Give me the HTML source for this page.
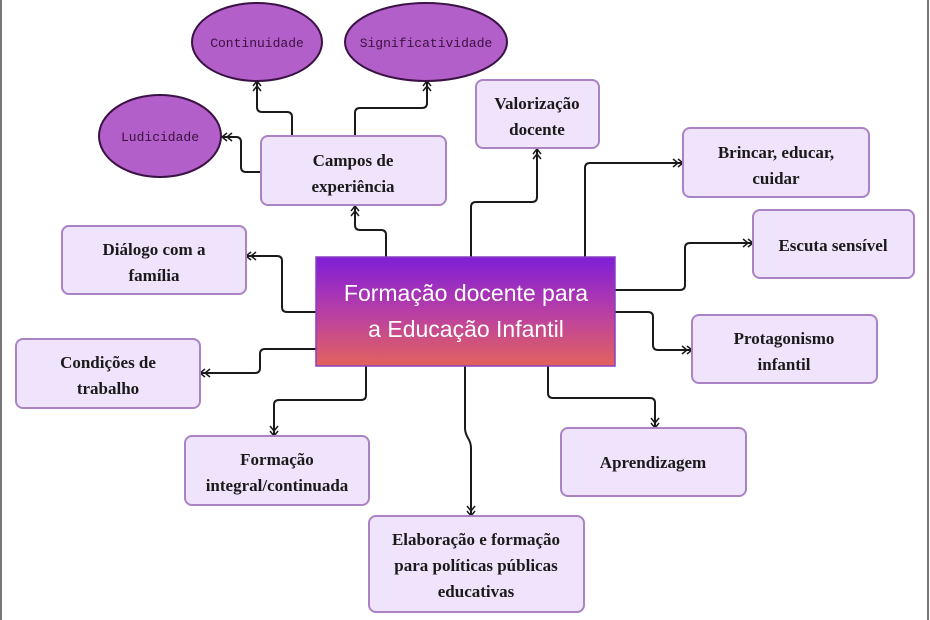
<!DOCTYPE html>
<html><head><meta charset="utf-8"><style>
html,body{margin:0;padding:0;background:#fff;}
svg{display:block;}
.bx{fill:#f0e3fc;stroke:#a983c4;stroke-width:2;}
.t{font-family:"Liberation Serif",serif;font-weight:bold;font-size:17px;fill:#1a1a1a;text-anchor:middle;}
.e{fill:#b35fc9;stroke:#3a1245;stroke-width:2;}
.et{font-family:"Liberation Mono",monospace;font-size:13px;fill:#3a1040;text-anchor:middle;}
.c{fill:none;stroke:#1a1a1a;stroke-width:2;stroke-linejoin:round;}
</style></head><body>
<svg width="930" height="620" viewBox="0 0 930 620" xmlns="http://www.w3.org/2000/svg">
<defs>
<marker id="a" viewBox="0 0 12 10" refX="11" refY="5" markerWidth="12" markerHeight="10" markerUnits="userSpaceOnUse" orient="auto">
<path d="M1,1 L6,5 L1,9 M6,1 L11,5 L6,9" fill="none" stroke="#1a1a1a" stroke-width="1.5"/>
</marker>
<linearGradient id="g" x1="0" y1="0" x2="0" y2="1">
<stop offset="0" stop-color="#7e1ed8"/><stop offset="0.5" stop-color="#b83ea6"/><stop offset="1" stop-color="#e2625c"/>
</linearGradient>
</defs>
<rect x="0" y="0" width="2" height="620" fill="#777"/>
<rect x="927" y="0" width="2" height="620" fill="#777"/>

<!-- connectors -->
<path class="c" marker-end="url(#a)" d="M386,257 V235 Q386,230 381,230 H360 Q355,230 355,225 V206"/>
<path class="c" marker-end="url(#a)" d="M292,137 V117 Q292,112 287,112 H262 Q257,112 257,107 V81"/>
<path class="c" marker-end="url(#a)" d="M355,137 V113 Q355,108 360,108 H422 Q427,108 427,103 V81"/>
<path class="c" marker-end="url(#a)" d="M261,172 H246 Q241,172 241,167 V142 Q241,137 236,137 H222"/>
<path class="c" marker-end="url(#a)" d="M471,257 V207 Q471,202 476,202 H532 Q537,202 537,197 V149"/>
<path class="c" marker-end="url(#a)" d="M585,257 V168 Q585,163 590,163 H683"/>
<path class="c" marker-end="url(#a)" d="M615,290 H680 Q685,290 685,285 V248 Q685,243 690,243 H753"/>
<path class="c" marker-end="url(#a)" d="M615,312 H648 Q653,312 653,317 V345 Q653,350 658,350 H692"/>
<path class="c" marker-end="url(#a)" d="M548,366 V393 Q548,398 553,398 H650 Q655,398 655,403 V428"/>
<path class="c" marker-end="url(#a)" d="M465,366 V428 Q465,433 468,438 Q471,443 471,448 V516"/>
<path class="c" marker-end="url(#a)" d="M366,366 V395 Q366,400 361,400 H279 Q274,400 274,405 V436"/>
<path class="c" marker-end="url(#a)" d="M316,349 H265 Q260,349 260,354 V368 Q260,373 255,373 H200"/>
<path class="c" marker-end="url(#a)" d="M316,312 H287 Q282,312 282,307 V261 Q282,256 277,256 H246"/>

<!-- ellipses -->
<ellipse class="e" cx="257" cy="42" rx="65" ry="39"/>
<text class="et" x="257" y="47">Continuidade</text>
<ellipse class="e" cx="426" cy="42" rx="81" ry="39"/>
<text class="et" x="426" y="47">Significatividade</text>
<ellipse class="e" cx="160" cy="136" rx="61" ry="41"/>
<text class="et" x="160" y="141">Ludicidade</text>

<!-- boxes -->
<rect class="bx" x="261" y="136" width="185" height="69" rx="7"/>
<text class="t" x="353" y="166">Campos de</text><text class="t" x="353" y="192">experiência</text>
<rect class="bx" x="476" y="80" width="123" height="68" rx="7"/>
<text class="t" x="537" y="109">Valorização</text><text class="t" x="537" y="135">docente</text>
<rect class="bx" x="683" y="128" width="186" height="69" rx="7"/>
<text class="t" x="776" y="158">Brincar, educar,</text><text class="t" x="776" y="184">cuidar</text>
<rect class="bx" x="753" y="210" width="161" height="68" rx="7"/>
<text class="t" x="833" y="251">Escuta sensível</text>
<rect class="bx" x="62" y="226" width="184" height="68" rx="7"/>
<text class="t" x="154" y="255">Diálogo com a</text><text class="t" x="154" y="281">família</text>
<rect class="bx" x="16" y="339" width="184" height="69" rx="7"/>
<text class="t" x="108" y="368">Condições de</text><text class="t" x="108" y="394">trabalho</text>
<rect class="bx" x="692" y="315" width="185" height="68" rx="7"/>
<text class="t" x="784" y="344">Protagonismo</text><text class="t" x="784" y="370">infantil</text>
<rect class="bx" x="185" y="436" width="184" height="69" rx="7"/>
<text class="t" x="277" y="465">Formação</text><text class="t" x="277" y="491">integral/continuada</text>
<rect class="bx" x="561" y="428" width="185" height="68" rx="7"/>
<text class="t" x="653" y="468">Aprendizagem</text>
<rect class="bx" x="369" y="516" width="215" height="96" rx="7"/>
<text class="t" x="476" y="545">Elaboração e formação</text><text class="t" x="476" y="571">para políticas públicas</text><text class="t" x="476" y="597">educativas</text>

<!-- central -->
<rect x="316" y="257" width="299" height="109" fill="url(#g)" stroke="#8a3fc0" stroke-width="1.5"/>
<text x="466" y="301" font-family="Liberation Sans, sans-serif" font-size="23" fill="#fff" text-anchor="middle">Formação docente para</text>
<text x="466" y="337" font-family="Liberation Sans, sans-serif" font-size="23" fill="#fff" text-anchor="middle">a Educação Infantil</text>
</svg>
</body></html>
